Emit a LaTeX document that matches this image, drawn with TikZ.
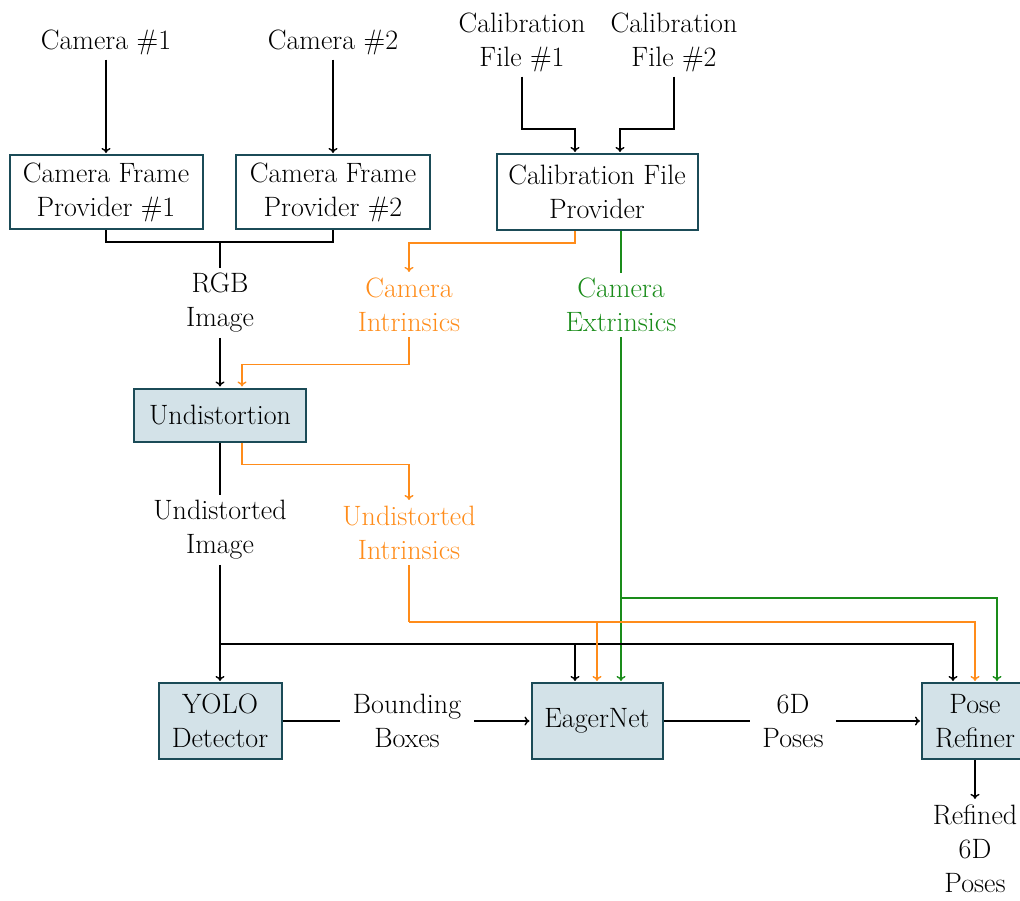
\documentclass[tikz,border=0pt]{standalone}
\usetikzlibrary{arrows.meta,calc}
\definecolor{boxedge}{HTML}{1B4B57}
\definecolor{boxfill}{HTML}{D3E2E8}
\definecolor{orng}{HTML}{FF8C1A}
\definecolor{grn}{HTML}{1A8C1A}
\begin{document}
\begin{tikzpicture}[x=1pt,y=-1pt, font=\fontsize{28}{34}\selectfont,
 box/.style={draw=boxedge, line width=2pt, align=center, inner sep=0pt},
 plainbox/.style={box, fill=white},
 procbox/.style={box, fill=boxfill},
 lbl/.style={align=center, inner sep=5pt},
 conn/.style={line width=1.4pt},
 arr/.style={conn, -{To[length=5pt,width=9pt]}, shorten >=1pt}
]
\useasboundingbox (0,0) rectangle (1020,900);
\clip (0,0) rectangle (1020,900);

% labels
\node[lbl] (cam1) at (106,42) {Camera \#1};
\node[lbl] (cam2) at (333,42) {Camera \#2};
\node[lbl] (cal1) at (522,42) {Calibration\\File \#1};
\node[lbl] (cal2) at (674,42) {Calibration\\File \#2};

% boxes
\node[plainbox, minimum width=193pt, minimum height=74pt] (cfp1) at (106,192) {Camera Frame\\Provider \#1};
\node[plainbox, minimum width=194pt, minimum height=74pt] (cfp2) at (333,192) {Camera Frame\\Provider \#2};
\node[plainbox, minimum width=201pt, minimum height=76pt] (calp) at (597,192) {Calibration File\\Provider};

\node[lbl] (rgb) at (220,303) {RGB\\Image};
\node[lbl, text=orng] (cint) at (409,305) {Camera\\Intrinsics};
\node[lbl, text=grn] (cext) at (621,305) {Camera\\Extrinsics};

\node[procbox, minimum width=172pt, minimum height=53pt] (und) at (220,415) {Undistortion};
\node[lbl] (uimg) at (220,530) {Undistorted\\Image};
\node[lbl, text=orng] (uint) at (409,533) {Undistorted\\Intrinsics};

\node[procbox, minimum width=123pt, minimum height=76pt] (yolo) at (220,721) {YOLO\\Detector};
\node[lbl, inner xsep=13pt] (bb) at (407,721) {Bounding\\Boxes};
\node[procbox, minimum width=131pt, minimum height=76pt] (eager) at (597,721) {EagerNet};
\node[lbl, inner xsep=12pt] (poses) at (793,721) {6D\\Poses};
\node[procbox, minimum width=106pt, minimum height=76pt] (pose) at (975,721) {Pose\\Refiner};
\node[lbl] (ref) at (975,849) {Refined\\6D\\Poses};

% coordinates
\coordinate (merge) at (220,242);
\coordinate (gsplit) at (621,598);
\coordinate (osplit) at (409,622);
\coordinate (bsplit) at (220,644);

% top
\draw[arr] (cam1) -- (cfp1);
\draw[arr] (cam2) -- (cfp2);
\draw[arr] (cal1.south) |- ($(calp.north)+(-22,-24)$) -- ($(calp.north)+(-22,0)$);
\draw[arr] (cal2.south) |- ($(calp.north)+(23,-24)$) -- ($(calp.north)+(23,0)$);

\draw[conn] (cfp1.south) |- (merge) -| (cfp2.south);
\draw[conn] (merge) -- (rgb.north);
\draw[arr] (rgb) -- (und);

% orange intrinsics
\draw[arr, draw=orng] ($(calp.south)+(-22,0)$) -- ++(0,12) -| (cint.north);
\draw[arr, draw=orng] (cint.south) |- ($(und.north)+(22,-23)$) -- ($(und.north)+(22,0)$);

% green extrinsics
\draw[conn, draw=grn] ($(calp.south)+(24,0)$) -- (cext.north);
\draw[arr, draw=grn] (cext.south) -- ($(eager.north)+(24,0)$);
\draw[arr, draw=grn] (gsplit) -| ($(pose.north)+(22,0)$);

% undistortion outputs
\draw[conn] (und) -- (uimg);
\draw[arr, draw=orng] ($(und.south)+(22,0)$) -- ++(0,22) -| (uint.north);

\draw[arr] (uimg) -- (yolo);
\draw[arr] (bsplit) -| ($(eager.north)+(-22,0)$);
\draw[arr] (bsplit) -| ($(pose.north)+(-22,0)$);

\draw[conn, draw=orng] (uint.south) -- (osplit);
\draw[arr, draw=orng] (osplit) -| (pose.north);
\draw[arr, draw=orng] (osplit) -| (eager.north);

% bottom row
\draw[conn] (yolo) -- (bb);
\draw[arr] (bb) -- (eager);
\draw[conn] (eager) -- (poses);
\draw[arr] (poses) -- (pose);
\draw[arr] (pose) -- (ref);
\end{tikzpicture}
\end{document}
